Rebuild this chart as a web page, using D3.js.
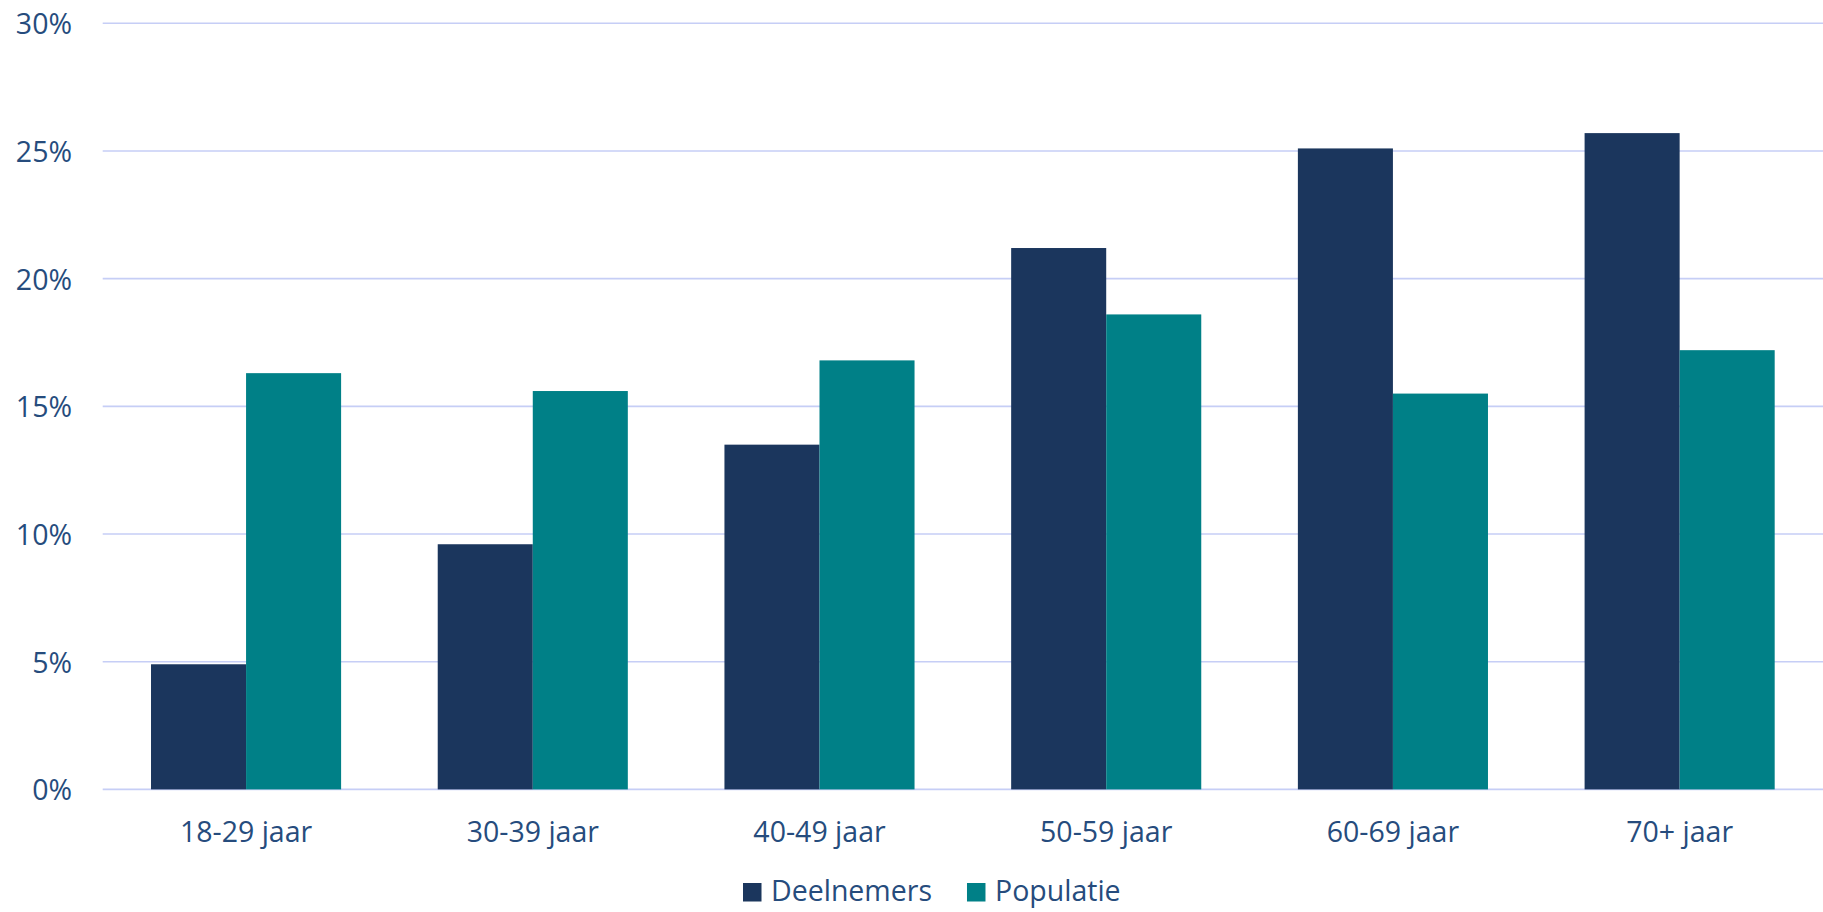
<!DOCTYPE html>
<html>
<head>
<meta charset="utf-8">
<script src="https://cdn.jsdelivr.net/npm/d3@7"></script>
<style>
  html, body { margin: 0; padding: 0; background: #fff; }
  svg { display: block; }
  text { font-family: "Open Sans", "Noto Sans", sans-serif; fill: #264c7d; }
</style>
</head>
<body>
<svg id="chart" width="1823" height="912"></svg>
<script>
const categories = ["18-29 jaar", "30-39 jaar", "40-49 jaar", "50-59 jaar", "60-69 jaar", "70+ jaar"];
const seriesNames = ["Deelnemers", "Populatie"];
const deelnemers = [4.9, 9.6, 13.5, 21.2, 25.1, 25.7];
const populatie = [16.3, 15.6, 16.8, 18.6, 15.5, 17.2];
const yTicks = [0, 5, 10, 15, 20, 25, 30];
const colors = ["#1b365d", "#008087"];

const seriesValues = [deelnemers, populatie];
const plotLeft = 102.7, plotRight = 1823, plotTop = 23.3, plotBottom = 789.4;

const svg = d3.select("#chart");

const y = d3.scaleLinear().domain([0, 30]).range([plotBottom, plotTop]);
const x = d3.scaleBand().domain(categories).range([plotLeft, plotRight]).paddingInner(0.337).paddingOuter(0.1685);
const xs = d3.scaleBand().domain(seriesNames).range([0, x.bandwidth()]);

// gridlines
svg.append("g").selectAll("line").data(yTicks).join("line")
  .attr("x1", plotLeft).attr("x2", plotRight)
  .attr("y1", d => y(d)).attr("y2", d => y(d))
  .attr("stroke", "#c6cef6").attr("stroke-width", 1.6);

// y labels
svg.append("g").selectAll("text").data(yTicks).join("text")
  .attr("x", 72).attr("y", d => y(d))
  .attr("text-anchor", "end").attr("dominant-baseline", "central")
  .attr("font-size", 28.5)
  .text(d => d + "%");

// bars
const rows = categories.map((c, i) => ({ c, vals: seriesValues.map((s, j) => ({ name: seriesNames[j], v: s[i], j })) }));
const groups = svg.append("g").selectAll("g").data(rows).join("g")
  .attr("transform", d => `translate(${x(d.c)},0)`);
groups.selectAll("rect").data(d => d.vals).join("rect")
  .attr("x", d => xs(d.name))
  .attr("width", xs.bandwidth())
  .attr("y", d => y(d.v))
  .attr("height", d => y(0) - y(d.v))
  .attr("fill", d => colors[d.j]);

// x labels
svg.append("g").selectAll("text").data(categories).join("text")
  .attr("x", d => x(d) + x.bandwidth() / 2).attr("y", 842)
  .attr("text-anchor", "middle")
  .attr("font-size", 28.5)
  .text(d => d);

// legend
const legend = svg.append("g");
let lx = 743;
seriesNames.forEach((name, j) => {
  legend.append("rect").attr("x", lx).attr("y", 883).attr("width", 18.5).attr("height", 18.5).attr("fill", colors[j]);
  const t = legend.append("text").attr("x", lx + 28).attr("y", 901).attr("font-size", 28.5).text(name);
  lx = lx + 28 + t.node().getComputedTextLength() + 35;
});
</script>
</body>
</html>
